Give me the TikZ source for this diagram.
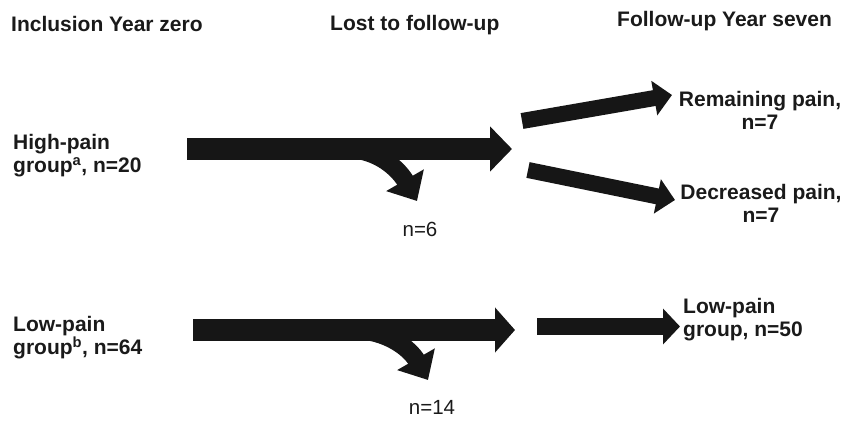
\documentclass[tikz,border=0pt]{standalone}
\usepackage{fontspec}
\setmainfont{Liberation Sans}
\usetikzlibrary{arrows.meta}
\definecolor{arrowgray}{HTML}{161616}
\definecolor{textgray}{HTML}{1A1A1A}
\begin{document}
\begin{tikzpicture}[x=1pt,y=1pt,
  lbl/.style={inner sep=0pt, text=textgray, font=\fontsize{21}{23.5}\selectfont\bfseries, align=left},
  num/.style={inner sep=0pt, text=textgray, font=\fontsize{20.5}{23.5}\selectfont},
  bigarrow/.style={draw=arrowgray, line width=22pt, -{Triangle[length=22pt,width=44pt]}},
  medarrow/.style={draw=arrowgray, line width=16pt, -{Triangle[length=18pt,width=34pt]}},
  brancharrow/.style={draw=arrowgray, line width=18pt, -{Triangle[length=24pt,width=42pt]}}]
\useasboundingbox (0,0) rectangle (841,423);
% headers
\node[lbl, anchor=base west] (h1) at (11,391) {Inclusion Year zero};
\node[lbl, anchor=base west] (h2) at (330,392) {Lost to follow-up};
\node[lbl, anchor=base west] (h3) at (617,396) {Follow-up Year seven};
% labels (base anchor = last line)
\node[lbl, anchor=base west] (hp) at (13,250) {High-pain\\group\textsuperscript{a}, n=20};
\node[lbl, anchor=base west] (lp) at (13,68) {Low-pain\\group\textsuperscript{b}, n=64};
\node[lbl, align=center, anchor=base] (rem) at (760,293) {Remaining pain,\\n=7};
\node[lbl, align=center, anchor=base] (dec) at (761,200) {Decreased pain,\\n=7};
\node[lbl, anchor=base west] (lpg) at (683,86) {Low-pain\\group, n=50};
\node[num, anchor=base] (n6) at (420,186) {n=6};
\node[num, anchor=base] (n14) at (432,8) {n=14};
% arrow coordinates
\coordinate (hs) at (187,274);
\coordinate (he) at (512,274);
\coordinate (hbs) at (345,274);
\coordinate (hbe) at (417,222);
\coordinate (ls) at (193,93);
\coordinate (le) at (515,93);
\coordinate (lbs) at (352,93);
\coordinate (lbe) at (428,43);
\coordinate (rs) at (522,302);
\coordinate (re) at (672,328);
\coordinate (ds) at (528,253);
\coordinate (de) at (675,223);
\coordinate (ps) at (537,96.5);
\coordinate (pe) at (680,96.5);
% arrows
\draw[brancharrow] (hbs) to[out=0,in=120] (hbe);
\draw[bigarrow] (hs) -- (he);
\draw[brancharrow] (lbs) to[out=0,in=120] (lbe);
\draw[bigarrow, -{Triangle[length=20pt,width=44pt]}] (ls) -- (le);
\draw[medarrow] (rs) -- (re);
\draw[medarrow] (ds) -- (de);
\draw[medarrow, line width=17pt, -{Triangle[length=17pt,width=35pt]}] (ps) -- (pe);
\end{tikzpicture}
\end{document}
